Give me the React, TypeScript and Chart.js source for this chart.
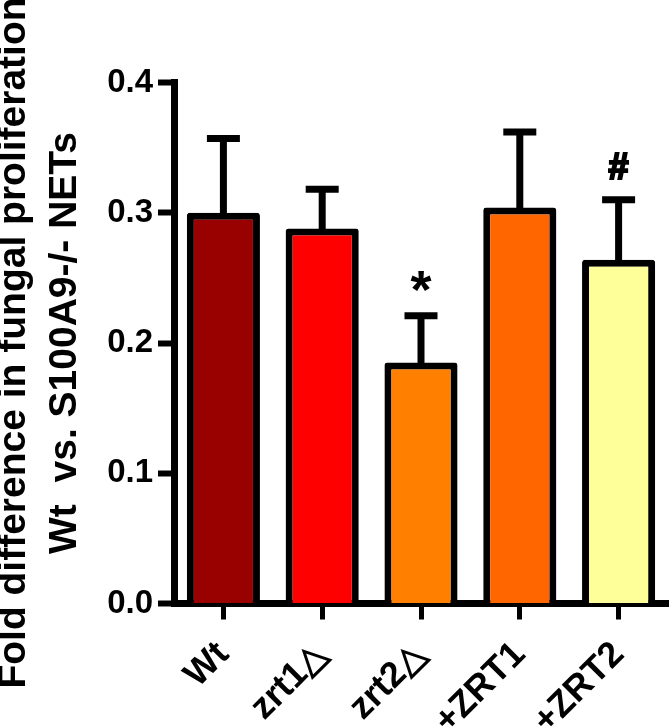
import React, { useEffect, useRef } from "react";
import { Chart, registerables } from "chart.js";

Chart.register(...registerables);

// ---- data ----
const categories = ["Wt", "zrt1△", "zrt2△", "+ZRT1", "+ZRT2"];
const means = [0.3, 0.288, 0.185, 0.304, 0.264];
const sems = [0.057, 0.03, 0.036, 0.058, 0.046];
const barColors = ["#990000", "#FF0000", "#FF8000", "#FF6600", "#FFFF99"];
const marks = ["", "", "*", "", "#"];
const yTicks = [0, 0.1, 0.2, 0.3, 0.4];
const yTitle = ["Fold difference in fungal proliferation", "Wt  vs. S100A9-/- NETs"];

const FONT = "'Liberation Sans', Arial, Helvetica, sans-serif";

const errorBarPlugin = {
  id: "errorBars",
  afterDatasetsDraw(chart: any) {
    const ctx = chart.ctx;
    const meta = chart.getDatasetMeta(0);
    const yScale = chart.scales.y;
    ctx.save();
    ctx.strokeStyle = "#000";
    ctx.fillStyle = "#000";
    ctx.lineCap = "butt";
    meta.data.forEach((bar: any, i: number) => {
      const x = bar.x;
      const top = bar.y;
      const end = yScale.getPixelForValue(means[i] + sems[i]);
      ctx.lineWidth = 7;
      ctx.beginPath();
      ctx.moveTo(x, top + 2);
      ctx.lineTo(x, end);
      ctx.stroke();
      ctx.beginPath();
      ctx.moveTo(x - 16.5, end);
      ctx.lineTo(x + 16.5, end);
      ctx.stroke();
      const m = marks[i];
      if (m) {
        const size = m === "*" ? 54 : 36;
        ctx.font = `bold ${size}px ${FONT}`;
        ctx.textAlign = "center";
        ctx.textBaseline = "alphabetic";
        const tm = ctx.measureText(m);
        const center = end - 34;
        const baseline = center + (tm.actualBoundingBoxAscent - tm.actualBoundingBoxDescent) / 2;
        ctx.fillText(m, x, baseline);
        if (m === "#") {
          ctx.lineWidth = 2.2;
          ctx.lineJoin = "miter";
          ctx.strokeText(m, x, baseline);
        }
      }
    });
    ctx.restore();
  },
};

export default function App() {
  const ref = useRef<HTMLCanvasElement | null>(null);

  useEffect(() => {
    if (!ref.current) return;
    const chart = new Chart(ref.current, {
      type: "bar",
      data: {
        labels: categories,
        datasets: [
          {
            data: means,
            backgroundColor: barColors,
            borderColor: "#000",
            borderWidth: 7,
            borderRadius: 3,
            borderSkipped: "bottom",
            barPercentage: 0.74,
            categoryPercentage: 1,
          },
        ],
      },
      options: {
        responsive: false,
        animation: false,
        devicePixelRatio: 1,
        layout: { padding: { top: 82.5, right: 4, left: 0, bottom: 0 } },
        plugins: { legend: { display: false }, tooltip: { enabled: false } },
        scales: {
          x: {
            grid: {
              offset: false,
              drawOnChartArea: false,
              tickLength: 16,
              tickWidth: 5,
              tickColor: "#000",
            },
            border: { width: 7, color: "#000" },
            ticks: {
              color: "#000",
              font: { family: FONT, size: 36, weight: "bold" },
              minRotation: 45,
              maxRotation: 45,
              autoSkip: false,
              padding: 14,
            },
            afterFit: (s: any) => {
              s.height = 123.5;
            },
          },
          y: {
            min: 0,
            max: 0.4,
            afterBuildTicks: (s: any) => {
              s.ticks = yTicks.map((v) => ({ value: v }));
            },
            ticks: {
              color: "#000",
              font: { family: FONT, size: 33, weight: "bold" },
              padding: 5,
              callback: (v: any) => Number(v).toFixed(1),
            },
            grid: {
              drawOnChartArea: false,
              tickLength: 16,
              tickWidth: 6,
              tickColor: "#000",
            },
            border: { width: 7, color: "#000" },
            title: {
              display: true,
              text: yTitle,
              color: "#000",
              font: { family: FONT, size: 39, weight: "bold", lineHeight: 1.3 },
              padding: { top: -11, bottom: 0 },
            },
            afterFit: (s: any) => {
              s.width = 174;
            },
          },
        },
      },
      plugins: [errorBarPlugin],
    } as any);
    return () => chart.destroy();
  }, []);

  return (
    <div style={{ position: "fixed", left: 0, top: 0, width: 672, height: 727, background: "#fff" }}>
      <canvas ref={ref} width={672} height={727} style={{ display: "block" }} />
    </div>
  );
}
